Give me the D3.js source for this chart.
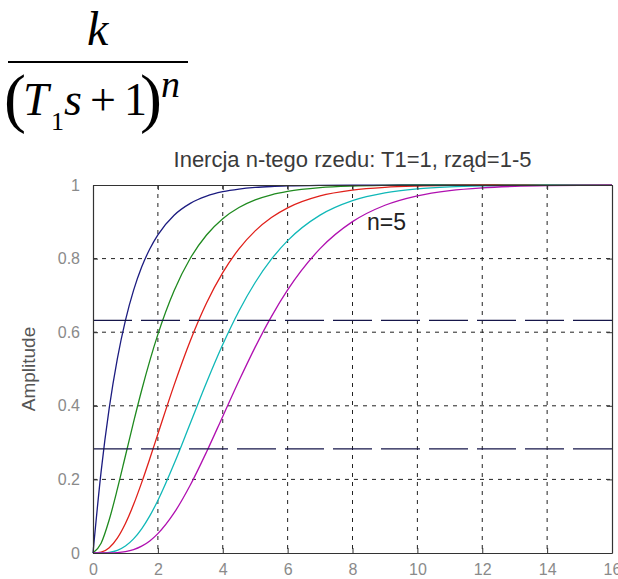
<!DOCTYPE html>
<html>
<head>
<meta charset="utf-8">
<script src="https://cdn.jsdelivr.net/npm/d3@7"></script>
<style>
  html, body { margin: 0; padding: 0; background: #fff; }
  svg { display: block; }
</style>
</head>
<body>
<svg id="chart" width="618" height="579"></svg>
<script>
// Step responses of k/(T1 s + 1)^n, T1 = 1, k = 1, orders n = 1..5
const timeValues = [0, 0.25, 0.5, 0.75, 1, 1.25, 1.5, 1.75, 2, 2.5, 3, 3.5, 4, 4.5, 5, 5.5, 6, 7, 8, 9, 10, 11, 12, 13, 14, 16];
const order1 = [0, 0.2212, 0.3935, 0.5276, 0.6321, 0.7135, 0.7769, 0.8262, 0.8647, 0.9179, 0.9502, 0.9698, 0.9817, 0.9889, 0.9933, 0.9959, 0.9975, 0.9991, 0.9997, 0.9999, 1, 1, 1, 1, 1, 1];
const order2 = [0, 0.0265, 0.0902, 0.1734, 0.2642, 0.3554, 0.4422, 0.5221, 0.5940, 0.7127, 0.8009, 0.8641, 0.9084, 0.9389, 0.9596, 0.9734, 0.9826, 0.9927, 0.9970, 0.9988, 0.9995, 0.9998, 0.9999, 1, 1, 1];
const order3 = [0, 0.0022, 0.0144, 0.0405, 0.0803, 0.1315, 0.1912, 0.2560, 0.3233, 0.4562, 0.5768, 0.6792, 0.7619, 0.8264, 0.8753, 0.9116, 0.9380, 0.9704, 0.9862, 0.9938, 0.9972, 0.9988, 0.9995, 0.9998, 0.9999, 1];
const order4 = [0, 0.0001, 0.0018, 0.0073, 0.0190, 0.0383, 0.0656, 0.1008, 0.1429, 0.2424, 0.3528, 0.4634, 0.5665, 0.6577, 0.7350, 0.7983, 0.8488, 0.9182, 0.9576, 0.9788, 0.9897, 0.9951, 0.9977, 0.9989, 0.9995, 0.9999];
const order5 = [0, 0, 0.0002, 0.0010, 0.0037, 0.0091, 0.0186, 0.0329, 0.0527, 0.1088, 0.1847, 0.2746, 0.3712, 0.4679, 0.5595, 0.6425, 0.7149, 0.8270, 0.9004, 0.9450, 0.9707, 0.9849, 0.9924, 0.9963, 0.9982, 0.9996];
const seriesColors = ["#1c1c80", "#1f8a1f", "#e0201a", "#10b8b8", "#b010b0"];

// Reference levels: 1 - 1/e and the 0.283 level
const levelValues = [0.632, 0.283];

const xTickValues = [0, 2, 4, 6, 8, 10, 12, 14, 16];
const yTickValues = [0, 0.2, 0.4, 0.6, 0.8, 1];
const yTickLabels = ["0", "0.2", "0.4", "0.6", "0.8", "1"];

const titleText = "Inercja n-tego rzedu: T1=1, rząd=1-5";
const yLabelText = "Amplitude";
const curveLabelText = "n=5";

const svg = d3.select("#chart");
const margin = { left: 93, top: 185, right: 6, bottom: 26 };
const W = 618 - margin.left - margin.right;
const H = 579 - margin.top - margin.bottom;

const x = d3.scaleLinear().domain([0, 16]).range([0, W]);
const y = d3.scaleLinear().domain([0, 1]).range([H, 0]);

const g = svg.append("g").attr("transform", `translate(${margin.left},${margin.top})`);

// grid
g.append("g").selectAll("line").data(xTickValues.slice(1, -1)).join("line")
  .attr("x1", d => x(d)).attr("x2", d => x(d))
  .attr("y1", 0).attr("y2", H)
  .attr("stroke", "#222").attr("stroke-width", 1)
  .attr("stroke-dasharray", "4,5");
g.append("g").selectAll("line").data(yTickValues.slice(1, -1)).join("line")
  .attr("x1", 0).attr("x2", W)
  .attr("y1", d => y(d)).attr("y2", d => y(d))
  .attr("stroke", "#222").attr("stroke-width", 1)
  .attr("stroke-dasharray", "4,5");

// step response curves
const line = d3.line()
  .x((d, i) => x(timeValues[i]))
  .y(d => y(d))
  .curve(d3.curveMonotoneX);

[order1, order2, order3, order4, order5].forEach((vals, i) => {
  g.append("path")
    .datum(vals)
    .attr("fill", "none")
    .attr("stroke", seriesColors[i])
    .attr("stroke-width", 1.3)
    .attr("d", line);
});

// long-dash level lines
g.append("g").selectAll("line").data(levelValues).join("line")
  .attr("x1", 0).attr("x2", W)
  .attr("y1", d => y(d)).attr("y2", d => y(d))
  .attr("stroke", "#16164a").attr("stroke-width", 1.4)
  .attr("stroke-dasharray", "39,9");

// axes with inward ticks on all four sides
const tickFont = "Arial, 'Liberation Sans', sans-serif";
const xAxisB = d3.axisBottom(x).tickValues(xTickValues).tickSizeInner(-5).tickSizeOuter(0).tickPadding(13).tickFormat(d3.format("d"));
const xAxisT = d3.axisTop(x).tickValues(xTickValues).tickSizeInner(-5).tickSizeOuter(0).tickFormat("");
const yAxisL = d3.axisLeft(y).tickValues(yTickValues).tickSizeInner(-5).tickSizeOuter(0).tickPadding(13)
  .tickFormat((d, i) => yTickLabels[i]);
const yAxisR = d3.axisRight(y).tickValues(yTickValues).tickSizeInner(-5).tickSizeOuter(0).tickFormat("");

function styleAxis(sel) {
  sel.select(".domain").attr("stroke", "#333").attr("stroke-width", 1.2);
  sel.selectAll(".tick line").attr("stroke", "#333");
  sel.selectAll(".tick text").attr("fill", "#8a8a8a")
    .style("font-family", tickFont).style("font-size", "16px");
}
g.append("g").attr("transform", `translate(0,${H})`).call(xAxisB).call(styleAxis)
  .selectAll(".tick text").attr("dy", "0.55em");
g.append("g").call(xAxisT).call(styleAxis);
g.append("g").call(yAxisL).call(styleAxis);
g.append("g").attr("transform", `translate(${W},0)`).call(yAxisR).call(styleAxis);

// title
svg.append("text")
  .attr("x", margin.left + W / 2).attr("y", 167)
  .attr("text-anchor", "middle")
  .attr("fill", "#3a3a3a")
  .style("font-family", tickFont).style("font-size", "22px")
  .text(titleText);

// y label
svg.append("text")
  .attr("transform", `translate(35,${margin.top + H / 2}) rotate(-90)`)
  .attr("text-anchor", "middle")
  .attr("fill", "#555")
  .style("font-family", tickFont).style("font-size", "19px")
  .text(yLabelText);

// curve annotation
svg.append("text")
  .attr("x", 367).attr("y", 230)
  .attr("fill", "#222")
  .style("font-family", tickFont).style("font-size", "23px")
  .text(curveLabelText);

// transfer function k / (T1 s + 1)^n
const serif = "'Liberation Serif', 'Times New Roman', serif";
const f = svg.append("g").attr("fill", "#000").style("font-family", serif);
f.append("text").attr("x", 87).attr("y", 45).style("font-size", "48px").style("font-style", "italic").text("k");
f.append("line").attr("x1", 8).attr("x2", 188).attr("y1", 62).attr("y2", 62).attr("stroke", "#000").attr("stroke-width", 2.2);

// denominator typeset as one text run
const denomParts = [
  { t: "(", x: 4,   y: 120, size: 66, italic: false },
  { t: "T", x: 23,  y: 115, size: 46, italic: true },
  { t: "1", x: 51,  y: 130, size: 26, italic: false },
  { t: "s", x: 64,  y: 115, size: 46, italic: true },
  { t: "+", x: 90,  y: 115, size: 46, italic: false },
  { t: "1", x: 124, y: 115, size: 46, italic: false },
  { t: ")", x: 140, y: 120, size: 66, italic: false },
  { t: "n", x: 161, y: 97,  size: 38, italic: true }
];
const denom = f.append("text");
denomParts.forEach(p => {
  denom.append("tspan")
    .attr("x", p.x).attr("y", p.y)
    .style("font-size", p.size + "px")
    .style("font-style", p.italic ? "italic" : "normal")
    .text(p.t);
});
</script>
</body>
</html>
